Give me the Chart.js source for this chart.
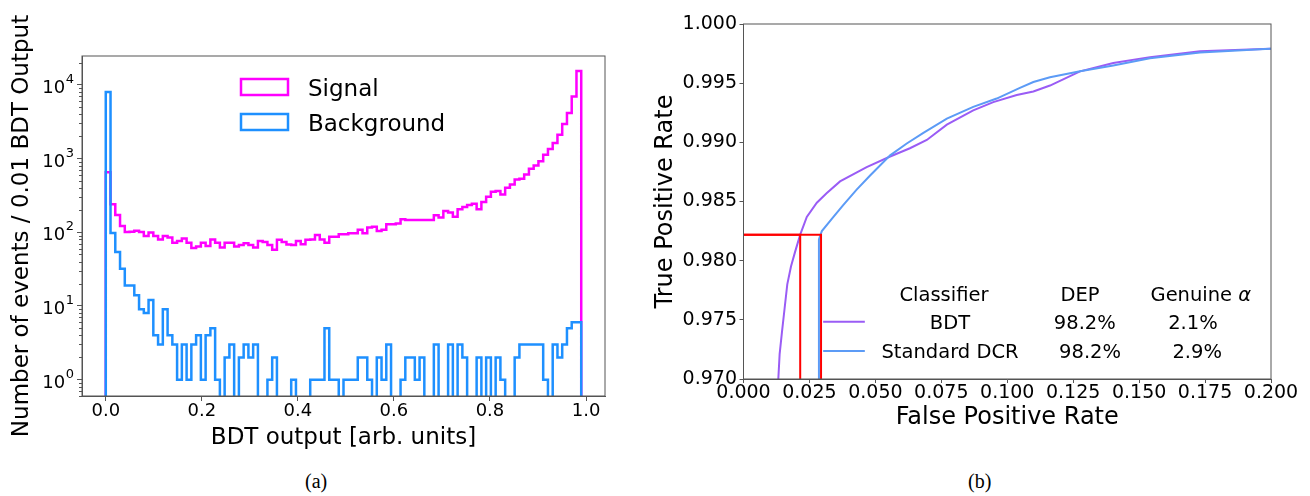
<!DOCTYPE html>
<html>
<head>
<meta charset="utf-8">
<script src="https://cdn.jsdelivr.net/npm/chart.js@4.4.0/dist/chart.umd.min.js"></script>
<style>
  html, body { margin: 0; padding: 0; background: #fff; }
  body { width: 1310px; height: 496px; position: relative; overflow: hidden; }
  #wrap-a { position: absolute; left: 0; top: 0; width: 625px; height: 460px; }
  #wrap-b { position: absolute; left: 640px; top: 0; width: 660px; height: 460px; }
  .caption { position: absolute; top: 471px; line-height: 20px; font-family: 'Liberation Serif', serif; font-size: 20px; color: #000; }
</style>
</head>
<body>
<div id="wrap-a"><canvas id="hist-chart" width="625" height="460" style="width:625px;height:460px"></canvas></div>
<div id="wrap-b"><canvas id="roc-chart" width="660" height="460" style="width:660px;height:460px"></canvas></div>
<div class="caption" style="left:305px">(a)</div>
<div class="caption" style="left:968px">(b)</div>
<script>
// ---- panel (a): BDT output histograms, 100 bins of 0.0099 from 0 to 0.99
const histStart = 0;
const binWidth = 0.0099;
const signalCounts = [
  650, 240, 171, 122, 101, 102, 105, 101, 89, 99,
  89, 80, 89, 85, 72, 76, 82, 72, 61, 64,
  72, 65, 80, 72, 62, 72, 72, 64, 67, 71,
  67, 62, 76, 74, 67, 58, 79, 74, 68, 67,
  76, 69, 79, 80, 92, 80, 72, 87, 87, 94,
  94, 97, 97, 108, 97, 116, 119, 104, 108, 128,
  128, 132, 150, 147, 147, 147, 147, 147, 147, 170,
  158, 194, 185, 163, 205, 220, 234, 244, 205, 257,
  303, 355, 362, 326, 402, 445, 520, 531, 608, 725,
  804, 920, 1130, 1350, 1630, 2110, 2940, 4140, 6950, 15400
];
const backgroundCounts = [
  8000, 98, 54, 32, 19, 19, 14, 9, 8, 12,
  4, 3, 9, 4, 3, 1, 3, 1, 3, 4,
  1, 4, 5, 1, 0, 2, 3, 0, 2, 3,
  2, 3, 0, 0, 1, 2, 0, 0, 0, 1,
  0, 0, 0, 1, 1, 1, 5, 1, 1, 0,
  1, 1, 1, 2, 2, 1, 0, 2, 1, 3,
  0, 0, 1, 2, 2, 1, 2, 0, 0, 3,
  0, 0, 3, 0, 3, 2, 0, 0, 2, 0,
  2, 0, 2, 1, 0, 0, 2, 3, 3, 3,
  3, 3, 1, 0, 3, 2, 3, 5, 6, 6
];
const histXTicks = [0, 0.2, 0.4, 0.6, 0.8, 1.0];
const histYTicks = [1, 10, 100, 1000, 10000];

// ---- panel (b): ROC curves
const bdtFpr = [0.0125, 0.0132, 0.0137, 0.0146, 0.0156, 0.0166, 0.0180, 0.0195, 0.0215, 0.0240, 0.0278, 0.0315, 0.0366, 0.0467, 0.0556, 0.0631, 0.0695, 0.0771, 0.0871, 0.0947, 0.1036, 0.1099, 0.1162, 0.1238, 0.1276, 0.1402, 0.1541, 0.1731, 0.1996, 0.2100];
const bdtTpr = [0.9680, 0.9700, 0.9721, 0.9740, 0.9760, 0.9780, 0.9795, 0.9807, 0.9822, 0.9837, 0.9849, 0.9857, 0.9867, 0.9879, 0.9888, 0.9895, 0.9902, 0.9915, 0.9927, 0.9934, 0.9940, 0.9943, 0.9948, 0.9956, 0.9960, 0.9967, 0.9972, 0.9977, 0.9979, 0.9980];
const dcrFpr = [0.0286, 0.0286, 0.0297, 0.0341, 0.0378, 0.0429, 0.0480, 0.0556, 0.0619, 0.0682, 0.0771, 0.0871, 0.0960, 0.1048, 0.1099, 0.1162, 0.1276, 0.1402, 0.1541, 0.1731, 0.1996, 0.2100];
const dcrTpr = [0.9680, 0.9818, 0.9825, 0.9837, 0.9847, 0.9860, 0.9872, 0.9889, 0.9899, 0.9908, 0.9920, 0.9930, 0.9937, 0.9946, 0.9951, 0.9955, 0.9960, 0.9965, 0.9971, 0.9976, 0.9979, 0.9980];
const depLevel = 0.9822;      // 98.2% DEP working point
const bdtCutFpr = 0.0215;     // genuine alpha, BDT
const dcrCutFpr = 0.0294;     // genuine alpha, standard DCR
const rocFprTicks = [0, 0.025, 0.05, 0.075, 0.1, 0.125, 0.15, 0.175, 0.2];
const rocTprTicks = [0.97, 0.975, 0.98, 0.985, 0.99, 0.995, 1.0];
const legendRows = [
  ['BDT', '98.2%', '2.1%'],
  ['Standard DCR', '98.2%', '2.9%']
];

const signalColor = '#ff00ff';
const backgroundColor = '#1e90ff';
const bdtColor = '#9a5cf5';
const dcrColor = '#5c9bf6';
const cutColor = '#ff0000';
const axisColor = '#555555';
const logFloor = 0.1; // empty bins drop below the log axis, like matplotlib

Chart.defaults.font.family = '"DejaVu Sans", sans-serif';
Chart.defaults.color = '#000';

function binEdge(i) {
  return histStart + i * binWidth;
}

function histPoints(counts) {
  const n = counts.length;
  const pts = [{ x: binEdge(0), y: logFloor }];
  counts.forEach((c, i) => pts.push({ x: binEdge(i), y: c > 0 ? c : logFloor }));
  pts.push({ x: binEdge(n), y: counts[n - 1] > 0 ? counts[n - 1] : logFloor });
  pts.push({ x: binEdge(n), y: logFloor });
  return pts;
}

function zipPoints(xs, ys) {
  return xs.map((x, i) => ({ x: x, y: ys[i] }));
}

// box around the plot area
const frameBox = {
  id: 'frameBox',
  afterDatasetsDraw(chart) {
    const { ctx, chartArea: a } = chart;
    ctx.save();
    ctx.strokeStyle = axisColor;
    ctx.lineWidth = 1;
    ctx.strokeRect(a.left, a.top, a.right - a.left, a.bottom - a.top);
    ctx.restore();
  }
};

// minor ticks and 10^n labels for the log axis
const logAxisDecor = {
  id: 'logAxisDecor',
  afterDraw(chart) {
    const s = chart.scales.y;
    const { ctx, chartArea: a } = chart;
    ctx.save();
    ctx.strokeStyle = axisColor;
    ctx.lineWidth = 1;
    for (let k = -1; k <= 4; k++) {
      for (let m = 2; m <= 9; m++) {
        const v = m * Math.pow(10, k);
        if (v < s.min || v > s.max) continue;
        const y = Math.round(s.getPixelForValue(v)) + 0.5;
        ctx.beginPath();
        ctx.moveTo(a.left - 3, y);
        ctx.lineTo(a.left, y);
        ctx.stroke();
      }
    }
    ctx.fillStyle = '#000';
    ctx.textBaseline = 'alphabetic';
    ctx.textAlign = 'right';
    histYTicks.forEach(v => {
      const y = s.getPixelForValue(v);
      const exp = String(Math.round(Math.log10(v)));
      const right = a.left - 8;
      ctx.font = '13px "DejaVu Sans"';
      const ew = ctx.measureText(exp).width;
      ctx.fillText(exp, right, y - 2);
      ctx.font = '18px "DejaVu Sans"';
      ctx.fillText('10', right - ew - 0.5, y + 8);
    });
    ctx.restore();
  }
};

const histLegend = {
  id: 'histLegend',
  afterDraw(chart) {
    const { ctx, chartArea: a } = chart;
    const rows = [
      { label: 'Signal', color: signalColor },
      { label: 'Background', color: backgroundColor }
    ];
    ctx.save();
    ctx.font = '23px "DejaVu Sans"';
    ctx.textBaseline = 'alphabetic';
    ctx.textAlign = 'left';
    rows.forEach((r, i) => {
      const cy = a.top + 31 + i * 35;
      ctx.strokeStyle = r.color;
      ctx.lineWidth = 2.5;
      ctx.strokeRect(a.left + 159, cy - 8, 47, 16);
      ctx.fillStyle = '#000';
      ctx.fillText(r.label, a.left + 226, cy + 8.5);
    });
    ctx.restore();
  }
};

const rocLegend = {
  id: 'rocLegend',
  afterDraw(chart) {
    const { ctx, chartArea: a } = chart;
    const W = a.right - a.left, H = a.bottom - a.top;
    const px = f => a.left + f * W;
    const py = f => a.top + f * H;
    const base = 7.5; // alphabetic baseline below the row centre
    ctx.save();
    ctx.font = '19.5px "DejaVu Sans"';
    ctx.textAlign = 'center';
    ctx.textBaseline = 'alphabetic';
    ctx.fillStyle = '#000';
    // header row
    ctx.fillText('Classifier', px(0.380), py(0.758) + base);
    ctx.fillText('DEP', px(0.638), py(0.758) + base);
    const g = 'Genuine ';
    const gw = ctx.measureText(g).width;
    ctx.font = 'italic 19.5px "DejaVu Sans"';
    const aw = ctx.measureText('\u03b1').width;
    const gx = px(0.867) - (gw + aw) / 2;
    ctx.textAlign = 'left';
    ctx.font = '19.5px "DejaVu Sans"';
    ctx.fillText(g, gx, py(0.758) + base);
    ctx.font = 'italic 19.5px "DejaVu Sans"';
    ctx.fillText('\u03b1', gx + gw, py(0.758) + base);
    ctx.font = '19.5px "DejaVu Sans"';
    ctx.textAlign = 'center';
    // entries
    const colors = [bdtColor, dcrColor];
    const colX = [[0.3915, 0.647, 0.852], [0.3915, 0.657, 0.860]];
    legendRows.forEach((row, i) => {
      const y = py(0.839 + i * 0.082);
      ctx.strokeStyle = colors[i];
      ctx.lineWidth = 2;
      ctx.beginPath();
      ctx.moveTo(px(0.151), y);
      ctx.lineTo(px(0.230), y);
      ctx.stroke();
      row.forEach((t, j) => ctx.fillText(t, px(colX[i][j]), y + base));
    });
    ctx.restore();
  }
};

new Chart(document.getElementById('hist-chart'), {
  type: 'line',
  data: {
    datasets: [
      { label: 'Background', data: histPoints(backgroundCounts), borderColor: backgroundColor, borderWidth: 2.5, stepped: true, pointRadius: 0, fill: false },
      { label: 'Signal', data: histPoints(signalCounts), borderColor: signalColor, borderWidth: 2.5, stepped: true, pointRadius: 0, fill: false }
    ]
  },
  options: {
    responsive: false,
    animation: false,
    layout: { padding: { left: 0, top: 56, right: 20, bottom: 0 } },
    plugins: { legend: { display: false }, tooltip: { enabled: false } },
    scales: {
      x: {
        type: 'linear',
        min: -0.0495,
        max: 1.0395,
        afterBuildTicks: s => { s.ticks = histXTicks.map(v => ({ value: v })); },
        afterFit: s => { s.height = 64; },
        ticks: { callback: v => v.toFixed(1), font: { size: 18, lineHeight: 1 }, padding: 1, maxRotation: 0, autoSkip: false },
        grid: { drawOnChartArea: false, tickLength: 5, color: axisColor },
        border: { color: axisColor },
        title: { display: true, text: 'BDT output [arb. units]', font: { size: 23 }, padding: { top: 0, bottom: 8 } }
      },
      y: {
        type: 'logarithmic',
        min: 0.627,
        max: 24650,
        afterBuildTicks: s => { s.ticks = histYTicks.map(v => ({ value: v, major: true })); },
        afterFit: s => { s.width = 82; },
        // labels are drawn by logAxisDecor so the exponent can be raised
        ticks: { callback: () => '', font: { size: 18 }, padding: 3, autoSkip: false },
        grid: { drawOnChartArea: false, tickLength: 5, color: axisColor },
        border: { color: axisColor },
        title: { display: true, text: 'Number of events / 0.01 BDT Output', font: { size: 23 }, padding: { top: 8, bottom: 0 } }
      }
    }
  },
  plugins: [frameBox, logAxisDecor, histLegend]
});

new Chart(document.getElementById('roc-chart'), {
  type: 'line',
  data: {
    datasets: [
      { label: 'cut BDT', data: [{ x: 0, y: depLevel }, { x: bdtCutFpr, y: depLevel }, { x: bdtCutFpr, y: rocTprTicks[0] }], borderColor: cutColor, borderWidth: 2, pointRadius: 0 },
      { label: 'cut DCR', data: [{ x: 0, y: depLevel }, { x: dcrCutFpr, y: depLevel }, { x: dcrCutFpr, y: rocTprTicks[0] }], borderColor: cutColor, borderWidth: 2, pointRadius: 0 },
      { label: 'Standard DCR', data: zipPoints(dcrFpr, dcrTpr), borderColor: dcrColor, borderWidth: 2, pointRadius: 0 },
      { label: 'BDT', data: zipPoints(bdtFpr, bdtTpr), borderColor: bdtColor, borderWidth: 2, pointRadius: 0 }
    ]
  },
  options: {
    responsive: false,
    animation: false,
    layout: { padding: { left: 0, top: 24, right: 29, bottom: 0 } },
    plugins: { legend: { display: false }, tooltip: { enabled: false } },
    scales: {
      x: {
        type: 'linear',
        min: 0,
        max: 0.2,
        afterBuildTicks: s => { s.ticks = rocFprTicks.map(v => ({ value: v })); },
        afterFit: s => { s.height = 81; },
        ticks: { callback: v => v.toFixed(3), font: { size: 19, lineHeight: 1 }, padding: 1, maxRotation: 0, autoSkip: false },
        grid: { drawOnChartArea: false, tickLength: 4, color: axisColor },
        border: { color: axisColor },
        title: { display: true, text: 'False Positive Rate', font: { size: 24 }, padding: { top: 0, bottom: 27.6 } }
      },
      y: {
        type: 'linear',
        min: 0.97,
        max: 1.0,
        afterBuildTicks: s => { s.ticks = rocTprTicks.map(v => ({ value: v })); },
        afterFit: s => { s.width = 103.5; },
        ticks: { callback: v => v.toFixed(3), font: { size: 19 }, padding: 2.5, autoSkip: false },
        grid: { drawOnChartArea: false, tickLength: 4, color: axisColor },
        border: { color: axisColor },
        title: { display: true, text: 'True Positive Rate', font: { size: 24 }, padding: { top: 11, bottom: 0 } }
      }
    }
  },
  plugins: [frameBox, rocLegend]
});
</script>
</body>
</html>
